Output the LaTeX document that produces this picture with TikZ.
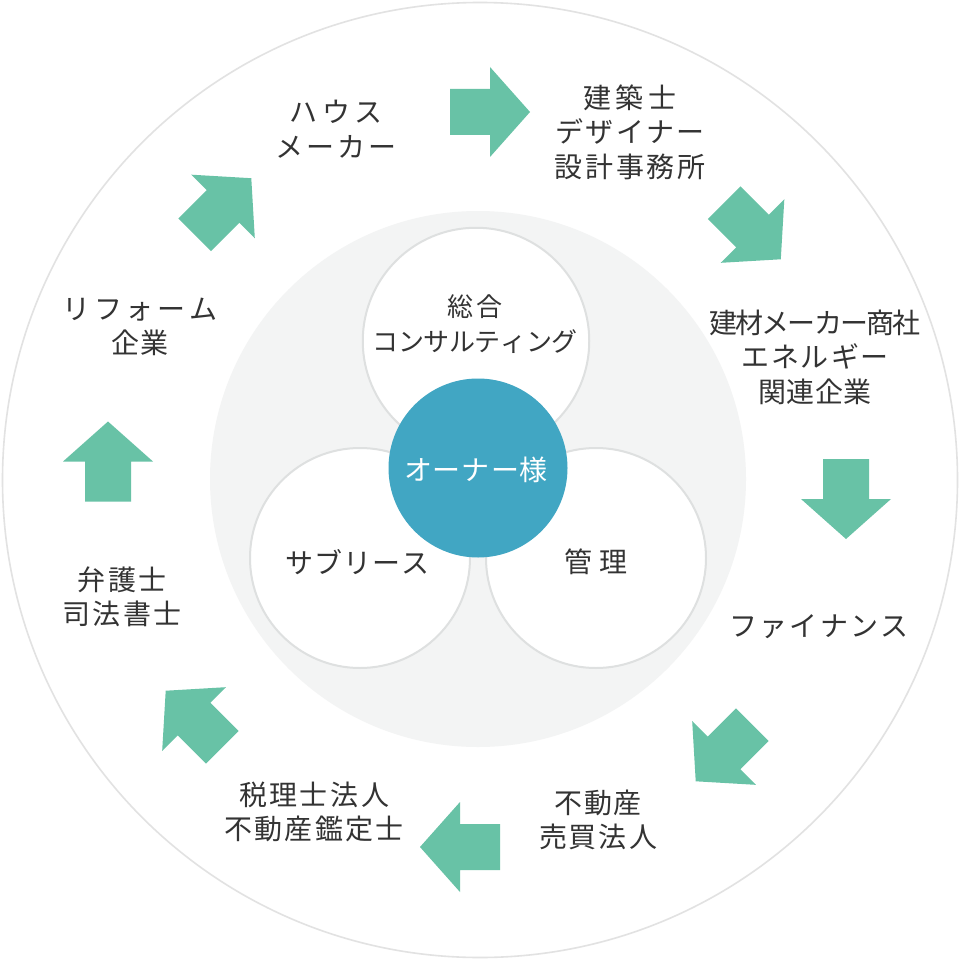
\documentclass[tikz,border=0pt]{standalone}
\usepackage{fontspec}
\setmainfont[Kerning=Off]{Noto Sans CJK JP}
\definecolor{arrowgreen}{RGB}{104,194,166}
\definecolor{ownerteal}{RGB}{65,166,195}
\definecolor{discgray}{RGB}{243,244,244}
\definecolor{ringgray}{RGB}{226,226,226}
\definecolor{circgray}{RGB}{222,224,224}
\definecolor{textgray}{RGB}{51,51,51}
% letter spacing helper
\makeatletter
\def\myls@A#1{\ifx\relax#1\else #1\expandafter\myls@B\fi}
\def\myls@B#1{\ifx\relax#1\else\kern\myls@sp #1\expandafter\myls@B\fi}
\newcommand\ls[2]{\def\myls@sp{#1}\myls@A#2\relax}
\makeatother
\tikzset{
  lbl/.style={font=\fontsize{28pt}{34.5pt}\selectfont, text=textgray, align=center, inner sep=0pt},
  smalllbl/.style={font=\fontsize{26pt}{34.5pt}\selectfont, text=textgray, align=center, inner sep=0pt},
  whitecirc/.style={circle, inner sep=0pt, fill=white, draw=circgray, line width=2pt, minimum size=#1},
  blockarrow/.pic={\fill[arrowgreen] (-40,-23) -- (0,-23) -- (0,-45) -- (40,0) -- (0,45) -- (0,23) -- (-40,23) -- cycle;}
}
\begin{document}
\begin{tikzpicture}[x={(1pt,0)}, y={(0,-1pt)}]
\useasboundingbox (0,0) rectangle (960,960);
\fill[white] (0,0) rectangle (960,960);
% outer ring
\draw[ringgray, line width=1.6pt] (480,480) circle[radius=477.5pt];
% inner disc
\fill[discgray] (478,479) circle[radius=268pt];
% three white circles
\node[whitecirc=226.5pt] (consult) at (476,341) {};
\node[whitecirc=220pt] (sublease) at (360,558) {};
\node[whitecirc=220pt] (manage) at (596,558) {};
% owner
\node[circle, inner sep=0pt, fill=ownerteal, minimum size=179pt] (owner) at (478,468) {};
% inner labels
\node[smalllbl] (consulttxt) at (475,324) {\ls{4pt}{総合}\\\ls{-0.4pt}{コンサルティング}};
\node[lbl] (subleasetxt) at (357.5,562) {\ls{0.8pt}{サブリース}};
\node[lbl] (managetxt) at (596,562) {管\kern8pt 理};
\node[lbl, text=white] (ownertxt) at (476,470) {\ls{1pt}{オーナー様}};
% outer labels
\node[lbl] (house) at (336,129) {\ls{4.2pt}{ハウス}\\\ls{3.1pt}{メーカー}};
\node[lbl] (design) at (630,132) {\ls{4.1pt}{建築士}\\\ls{2.3pt}{デザイナー}\\\ls{2.8pt}{設計事務所}};
\node[lbl] (material) at (815,357) {\ls{-1.8pt}{建材メーカー商社}\\\ls{2pt}{エネルギー}\\\ls{0.6pt}{関連企業}};
\node[lbl] (finance) at (819,627) {\ls{2.1pt}{ファイナンス}};
\node[lbl] (realestate) at (598,820) {\ls{1.6pt}{不動産}\\\ls{2pt}{売買法人}};
\node[lbl] (tax) at (314,812) {\ls{2.5pt}{税理士法人}\\\ls{2.2pt}{不動産鑑定士}};
\node[lbl] (lawyer) at (122,597) {\ls{2.1pt}{弁護士}\\\ls{2.4pt}{司法書士}};
\node[lbl] (reform) at (140,327) {\ls{3.6pt}{リフォーム}\\\ls{1.1pt}{企業}};
% block arrows
\pic at (490,112) {blockarrow};
\pic[rotate=-45] at (752.5,231) {blockarrow};
\pic[rotate=-90] at (846,499) {blockarrow};
\pic[rotate=-135] at (724,753) {blockarrow};
\pic[rotate=180] at (460,847) {blockarrow};
\pic[rotate=135] at (194,719) {blockarrow};
\pic[rotate=90] at (108,461.5) {blockarrow};
\pic[rotate=45] at (223,206.5) {blockarrow};
\end{tikzpicture}
\end{document}
